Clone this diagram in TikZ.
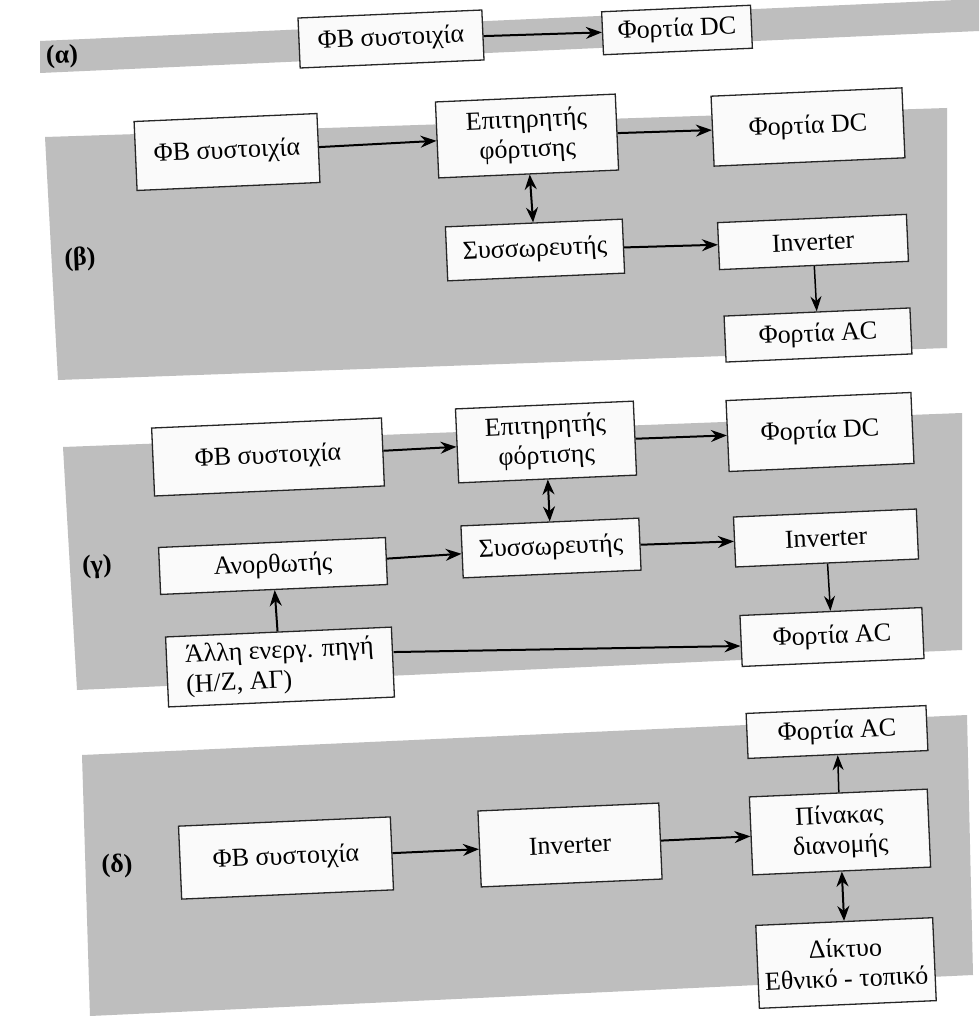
\documentclass[tikz,border=0pt]{standalone}
\usepackage{fontspec}
\setmainfont{Liberation Serif}
\usetikzlibrary{arrows.meta}
\definecolor{band}{HTML}{BEBEBE}
\definecolor{boxfill}{HTML}{FAFAFA}

\begin{document}
\begin{tikzpicture}[
  x=1pt, y=-1pt,
  font=\fontsize{26}{30}\selectfont,
  blk/.style={draw=black!85, line width=1.3pt, fill=boxfill, align=center, inner sep=0pt, rotate=2.5},
  flow/.style={line width=2pt, -{Stealth[length=16pt,width=12pt]}},
  thin flow/.style={line width=1.5pt, -{Stealth[length=15pt,width=11pt]}},
  both/.style={line width=2pt, {Stealth[length=15pt,width=12pt]}-{Stealth[length=15pt,width=12pt]}},
  tag/.style={font=\fontsize{26}{30}\selectfont\bfseries, rotate=2.5},
]
\useasboundingbox (0,0) rectangle (979,1016);
\clip (0,0) rectangle (979,1016);
\fill[white] (0,0) rectangle (979,1016);

% ---------- gray bands ----------
\fill[band] (40,41) -- (979,-1) -- (979,31) -- (40,73) -- cycle;
\fill[band] (45,137) -- (947,108) -- (947,348) -- (58,380) -- cycle;
\fill[band] (63,447) -- (962,413) -- (962,650) -- (77,690) -- cycle;
\fill[band] (82,755) -- (967,715) -- (973,975) -- (90,1016) -- cycle;

% panel tags: x, y, letter
\foreach \x/\y/\g in {62/57/α, 80/259/β, 97/567/γ, 117/866/δ}
  \node[tag] (tag\g) at (\x,\y) {(\g)};

% ---------- (α) ----------
\node[blk, minimum width=184pt, minimum height=50pt] (fbA) at (391,39) {ΦΒ συστοιχία};
\node[blk, minimum width=149pt, minimum height=43pt] (dcA) at (677,30) {Φορτία DC};
\draw[flow] (fbA) -- (dcA);

% ---------- (β) ----------
\node[blk, minimum width=183pt, minimum height=69pt] (fbB) at (227,152) {ΦΒ συστοιχία};
\node[blk, minimum width=180pt, minimum height=76pt] (monB) at (527,136) {Επιτηρητής\\φόρτισης};
\node[blk, minimum width=191pt, minimum height=70pt] (dcB) at (808,127) {Φορτία DC};
\node[blk, minimum width=177pt, minimum height=54pt] (batB) at (535,250) {Συσσωρευτής};
\node[blk, minimum width=189pt, minimum height=47pt] (invB) at (813,242) {Inverter};
\node[blk, minimum width=186pt, minimum height=46pt] (acB) at (818,335) {Φορτία AC};
\draw[flow] (fbB) -- (monB);
\draw[flow] (monB) -- (dcB);
\draw[both] (monB) -- (batB);
\draw[flow] (batB) -- (invB);
\draw[thin flow] (invB) -- (acB);

% ---------- (γ) ----------
\node[blk, minimum width=230pt, minimum height=68pt] (fbC) at (268,457) {ΦΒ συστοιχία};
\node[blk, minimum width=178pt, minimum height=74pt] (monC) at (546,442) {Επιτηρητής\\φόρτισης};
\node[blk, minimum width=185pt, minimum height=71pt] (dcC) at (820,432) {Φορτία DC};
\node[blk, minimum width=227pt, minimum height=47pt] (recC) at (273,566) {Ανορθωτής};
\node[blk, minimum width=178pt, minimum height=52pt] (batC) at (551,548) {Συσσωρευτής};
\node[blk, minimum width=183pt, minimum height=50pt] (invC) at (826,538) {Inverter};
\node[blk, minimum width=226pt, minimum height=70pt, align=left] (genC) at (280,667) {Άλλη ενεργ. πηγή\\(Η/Ζ, ΑΓ)};
\node[blk, minimum width=182pt, minimum height=51pt] (acC) at (832,637) {Φορτία AC};
\draw[flow] (fbC) -- (monC);
\draw[flow] (monC) -- (dcC);
\draw[both] (monC) -- (batC);
\draw[flow] (recC) -- (batC);
\draw[flow] (batC) -- (invC);
\draw[thin flow] (invC) -- (acC);
\draw[flow] (genC) -- (recC);
\draw[flow] ([yshift=10pt]genC.east) -- ([yshift=-5pt]acC.west);

% ---------- (δ) ----------
\node[blk, minimum width=212pt, minimum height=73pt] (fbD) at (286,858) {ΦΒ συστοιχία};
\node[blk, minimum width=181pt, minimum height=76pt] (invD) at (570,845) {Inverter};
\node[blk, minimum width=178pt, minimum height=78pt] (panD) at (840,832) {Πίνακας\\διανομής};
\node[blk, minimum width=180pt, minimum height=45pt] (acD) at (837,732) {Φορτία AC};
\node[blk, minimum width=177pt, minimum height=83pt] (gridD) at (846,963) {Δίκτυο\\Εθνικό - τοπικό};
\draw[flow] (fbD) -- (invD);
\draw[flow] (invD) -- (panD);
\draw[thin flow] (panD) -- (acD);
\draw[both] (panD) -- (gridD);

\end{tikzpicture}
\end{document}
